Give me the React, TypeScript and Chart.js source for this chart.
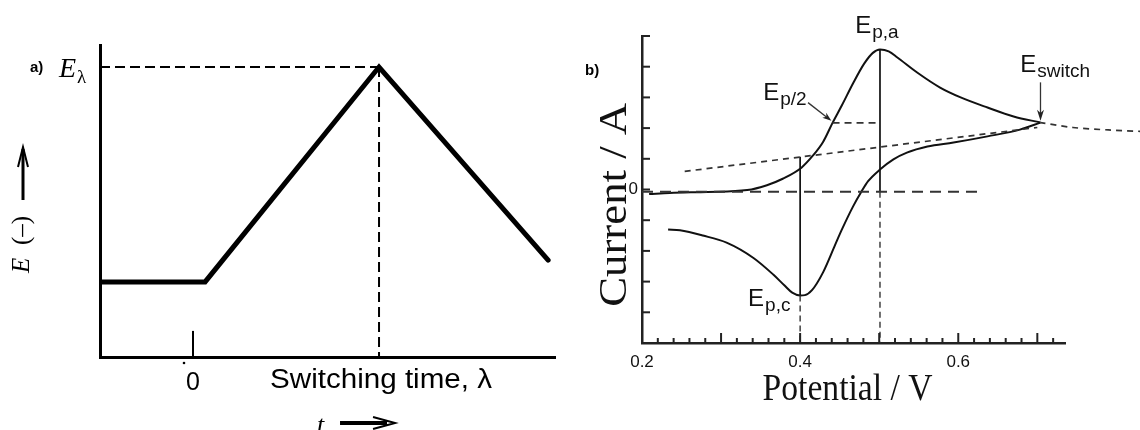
import React, { useEffect, useRef } from "react";
import { Chart, registerables } from "chart.js";
Chart.register(...registerables);

// ---------------- Panel a: potential waveform ----------------
const rampTime = [-0.5, 0.065, 1.0, 1.909];
const rampPotential = [0.259, 0.259, 1.0, 0.334];
const switchTime = 1.0;
const switchPotential = 1.0;
const timeMin = -0.5;
const timeMax = 1.946;
const potentialMin = 0;
const potentialMax = 1.076;
const timeTickValues = [0];
const timeTickLabels = ["0"];
const timeTickHeight = 0.09;

// ---------------- Panel b: cyclic voltammogram ----------------
const forwardV = [0.209, 0.235, 0.283, 0.333, 0.358, 0.378, 0.402, 0.416, 0.429, 0.441, 0.453, 0.467, 0.481, 0.492, 0.501, 0.512, 0.523, 0.548, 0.577, 0.603, 0.637, 0.67, 0.704];
const forwardI = [-0.15, -0.11, -0.08, -0.02, 0.14, 0.35, 0.72, 1.1, 1.55, 2.17, 2.75, 3.46, 4.1, 4.45, 4.56, 4.5, 4.3, 3.81, 3.32, 3.0, 2.67, 2.38, 2.18];
const reverseV = [0.233, 0.248, 0.277, 0.307, 0.341, 0.366, 0.38, 0.39, 0.4, 0.406, 0.415, 0.429, 0.444, 0.452, 0.467, 0.478, 0.486, 0.501, 0.518, 0.535, 0.561, 0.594, 0.637, 0.678, 0.704];
const reverseI = [-1.3, -1.33, -1.5, -1.73, -2.23, -2.77, -3.12, -3.36, -3.45, -3.44, -3.28, -2.7, -1.82, -1.35, -0.55, -0.05, 0.27, 0.65, 0.98, 1.2, 1.4, 1.53, 1.73, 1.95, 2.18];
const baselineV = [0.254, 0.7];
const baselineI = [0.59, 2.02];
// listed from the far right back to the switching point
const extensionV = [0.835, 0.79, 0.745, 0.704];
const extensionI = [1.89, 1.94, 2.02, 2.18];
const zeroLineV = [0.2, 0.626];
const zeroLineI = -0.07;
const peakAnodicV = 0.501;
const peakAnodicI = 4.56;
const peakCathodicV = 0.4;
const peakCathodicI = -3.45;
const cathodicLineTopI = 1.07;
const halfPeakV = [0.441, 0.501];
const halfPeakI = 2.17;
const switchV = 0.704;
const vMin = 0.2;
const vMax = 0.735;
const iMin = -5;
const iMax = 5;
const currentTickValues = [-4, -3, -2, -1, 0, 1, 2, 3, 4, 5];
const currentTickLabels = ["0"];
const potentialTickValues = [0.2, 0.4, 0.6];
const potentialTickLabels = ["0.2", "0.4", "0.6"];

const SANS = '"Liberation Sans", Arial, Helvetica, sans-serif';
const SERIF = '"Liberation Serif", "Times New Roman", serif';

function pts(xs: number[], ys: number[] | number) {
  return xs.map((x, i) => ({ x, y: Array.isArray(ys) ? ys[i] : ys }));
}

function fitText(ctx: CanvasRenderingContext2D, text: string, font: string, x: number, y: number, width: number, align: CanvasTextAlign, rot = 0) {
  ctx.save();
  ctx.font = font;
  const w = ctx.measureText(text).width;
  const sx = width > 0 ? width / w : 1;
  ctx.translate(x, y);
  if (rot) ctx.rotate(rot);
  ctx.scale(sx, 1);
  ctx.textAlign = align;
  ctx.textBaseline = "alphabetic";
  ctx.fillText(text, 0, 0);
  ctx.restore();
}

function filledArrow(ctx: CanvasRenderingContext2D, x0: number, y0: number, x1: number, y1: number, len: number, half: number) {
  const a = Math.atan2(y1 - y0, x1 - x0);
  ctx.beginPath();
  ctx.moveTo(x0, y0);
  ctx.lineTo(x1 - Math.cos(a) * len * 0.6, y1 - Math.sin(a) * len * 0.6);
  ctx.stroke();
  ctx.beginPath();
  ctx.moveTo(x1, y1);
  ctx.lineTo(x1 - Math.cos(a) * len - Math.sin(a) * half, y1 - Math.sin(a) * len + Math.cos(a) * half);
  ctx.lineTo(x1 - Math.cos(a) * len * 0.7, y1 - Math.sin(a) * len * 0.7);
  ctx.lineTo(x1 - Math.cos(a) * len + Math.sin(a) * half, y1 - Math.sin(a) * len - Math.cos(a) * half);
  ctx.closePath();
  ctx.fill();
}

const hiddenScale = (min: number, max: number, width: number, color: string, horizontal: boolean) => ({
  type: "linear" as const,
  min,
  max,
  ticks: { display: false },
  grid: { display: false, drawTicks: false },
  border: { display: true, color, width },
  afterFit: (s: any) => {
    if (horizontal) s.height = 0;
    else s.width = 0;
  },
});

const decorA = {
  id: "decorA",
  afterDraw(chart: any) {
    const ctx: CanvasRenderingContext2D = chart.ctx;
    const X = chart.scales.x;
    const Y = chart.scales.y;
    const area = chart.chartArea;
    ctx.save();
    ctx.fillStyle = "#000";
    ctx.strokeStyle = "#000";
    const ey = Y.getPixelForValue(switchPotential);
    // a)
    ctx.font = `bold 15px ${SANS}`;
    ctx.textAlign = "left";
    ctx.textBaseline = "middle";
    ctx.fillText("a)", area.left - 70, ey + 1);
    // E_lambda
    ctx.textBaseline = "alphabetic";
    ctx.font = `italic 28px ${SERIF}`;
    ctx.fillText("E", area.left - 41, ey + 10);
    const ew = ctx.measureText("E").width;
    ctx.font = `19px ${SERIF}`;
    ctx.fillText("λ", area.left - 41 + ew + 1, ey + 16);
    // rotated y label: E (–) with arrow
    ctx.save();
    ctx.translate(area.left - 78, area.bottom - 84);
    ctx.rotate(-Math.PI / 2);
    ctx.textBaseline = "middle";
    ctx.textAlign = "left";
    ctx.font = `italic 25px ${SERIF}`;
    ctx.fillText("E", 0, 0);
    ctx.font = `25px ${SERIF}`;
    ctx.fillText("(–)", 28, 0);
    ctx.restore();
    const ax = area.left - 77;
    ctx.lineWidth = 3;
    ctx.beginPath();
    ctx.moveTo(ax, area.bottom - 157);
    ctx.lineTo(ax, area.bottom - 208);
    ctx.stroke();
    ctx.lineWidth = 2;
    ctx.beginPath();
    ctx.moveTo(ax - 5, area.bottom - 190);
    ctx.lineTo(ax, area.bottom - 210);
    ctx.lineTo(ax + 5, area.bottom - 190);
    ctx.stroke();
    // time tick labels
    ctx.font = `25px ${SANS}`;
    ctx.textAlign = "center";
    ctx.textBaseline = "alphabetic";
    timeTickValues.forEach((v, i) => {
      const px = X.getPixelForValue(v);
      ctx.fillText(timeTickLabels[i], px, area.bottom + 33);
      ctx.beginPath();
      ctx.arc(px - 9, area.bottom + 6, 1.3, 0, Math.PI * 2);
      ctx.fill();
    });
    // Switching time label
    const sx = X.getPixelForValue(switchTime);
    fitText(ctx, "Switching time, λ", `27px ${SANS}`, sx + 2, area.bottom + 31, 222, "center");
    // t ->
    ctx.font = `italic 26px ${SERIF}`;
    ctx.textAlign = "left";
    ctx.fillText("t", sx - 62, area.bottom + 76);
    const ty = area.bottom + 66;
    ctx.lineWidth = 4;
    ctx.beginPath();
    ctx.moveTo(sx - 39, ty);
    ctx.lineTo(sx + 8, ty);
    ctx.stroke();
    ctx.lineWidth = 2;
    ctx.beginPath();
    ctx.moveTo(sx - 6, ty - 6);
    ctx.lineTo(sx + 16, ty);
    ctx.lineTo(sx - 6, ty + 6);
    ctx.stroke();
    ctx.restore();
  },
};

const decorB = {
  id: "decorB",
  afterDraw(chart: any) {
    const ctx: CanvasRenderingContext2D = chart.ctx;
    const X = chart.scales.x;
    const Y = chart.scales.y;
    const area = chart.chartArea;
    ctx.save();
    ctx.strokeStyle = "#222";
    ctx.fillStyle = "#111";
    // y ticks (inward)
    ctx.lineWidth = 2;
    currentTickValues.forEach((v) => {
      const py = Y.getPixelForValue(v);
      ctx.beginPath();
      ctx.moveTo(area.left, py);
      ctx.lineTo(area.left + 8, py);
      ctx.stroke();
    });
    // x ticks every 0.02, taller every 0.1
    for (let k = 11; k <= 36; k++) {
      const v = k * 0.02;
      const px = X.getPixelForValue(v);
      const len = k % 5 === 0 ? 10 : 5;
      ctx.beginPath();
      ctx.moveTo(px, area.bottom);
      ctx.lineTo(px, area.bottom - len);
      ctx.stroke();
    }
    // tick labels
    ctx.font = `17px ${SANS}`;
    ctx.textAlign = "center";
    ctx.textBaseline = "alphabetic";
    potentialTickValues.forEach((v, i) => {
      ctx.fillText(potentialTickLabels[i], X.getPixelForValue(v), area.bottom + 24);
    });
    ctx.textAlign = "right";
    ctx.textBaseline = "middle";
    ctx.fillText(currentTickLabels[0], area.left - 4, Y.getPixelForValue(0));
    // axis titles
    fitText(ctx, "Potential / V", `38px ${SERIF}`, X.getPixelForValue(0.46), area.bottom + 57, 170, "center");
    fitText(ctx, "Current / A", `40px ${SERIF}`, area.left - 16, Y.getPixelForValue(-0.5), 204, "center", -Math.PI / 2);
    // b)
    ctx.font = `bold 15px ${SANS}`;
    ctx.textAlign = "left";
    ctx.textBaseline = "middle";
    ctx.fillStyle = "#000";
    ctx.fillText("b)", area.left - 57, 71);
    // subscript labels
    const lbl = (sub: string, v: number, i: number) => {
      const x = X.getPixelForValue(v);
      const y = Y.getPixelForValue(i);
      ctx.textAlign = "left";
      ctx.textBaseline = "alphabetic";
      ctx.fillStyle = "#111";
      ctx.font = `24px ${SANS}`;
      ctx.fillText("E", x, y);
      const w = ctx.measureText("E").width;
      ctx.font = `19px ${SANS}`;
      ctx.fillText(sub, x + w + 1, y + 5);
    };
    lbl("p,a", 0.4696, 5.11);
    lbl("p/2", 0.3532, 2.93);
    lbl("p,c", 0.3342, -3.81);
    lbl("switch", 0.6785, 3.84);
    // arrows
    ctx.strokeStyle = "#333";
    ctx.fillStyle = "#222";
    ctx.lineWidth = 1.3;
    filledArrow(ctx, X.getPixelForValue(0.41), Y.getPixelForValue(2.83), X.getPixelForValue(0.4395), Y.getPixelForValue(2.24), 9, 3.2);
    filledArrow(ctx, X.getPixelForValue(switchV), Y.getPixelForValue(3.49), X.getPixelForValue(switchV), Y.getPixelForValue(2.24), 11, 3.5);
    ctx.restore();
  },
};

const lineBase = { pointRadius: 0, fill: false, borderColor: "#000", tension: 0 };

export default function App() {
  const refA = useRef<HTMLCanvasElement>(null);
  const refB = useRef<HTMLCanvasElement>(null);

  useEffect(() => {
    const chartA = new Chart(refA.current as HTMLCanvasElement, {
      type: "line",
      data: {
        datasets: [
          { ...lineBase, data: pts(timeTickValues, 0).concat(pts(timeTickValues, timeTickHeight)), borderWidth: 2 },
          { ...lineBase, data: pts([timeMin, switchTime], switchPotential), borderWidth: 2, borderDash: [10, 5] },
          { ...lineBase, data: pts([switchTime, switchTime], [switchPotential, potentialMin]), borderWidth: 2, borderDash: [10, 5] },
          { ...lineBase, data: pts(rampTime, rampPotential), borderWidth: 5, borderJoinStyle: "miter", borderCapStyle: "round" },
        ] as any,
      },
      options: {
        animation: false,
        responsive: false,
        devicePixelRatio: 1,
        events: [],
        layout: { padding: { left: 100, top: 45, right: 15, bottom: 73 } },
        plugins: { legend: { display: false }, tooltip: { enabled: false } },
        scales: {
          x: hiddenScale(timeMin, timeMax, 3, "#000", true),
          y: hiddenScale(potentialMin, potentialMax, 3, "#000", false),
        } as any,
      },
      plugins: [decorA],
    });

    const dashed = { ...lineBase, borderColor: "#333" };
    const chartB = new Chart(refB.current as HTMLCanvasElement, {
      type: "line",
      data: {
        datasets: [
          { ...dashed, data: pts(zeroLineV, zeroLineI), borderWidth: 2, borderDash: [11, 7] },
          { ...dashed, data: pts(baselineV, baselineI), borderWidth: 1.7, borderDash: [6, 5] },
          { ...dashed, data: pts(extensionV, extensionI), borderWidth: 1.7, borderDash: [6, 5], clip: false, tension: 0.3 },
          { ...dashed, data: pts(halfPeakV, halfPeakI), borderWidth: 1.7, borderDash: [7, 5] },
          { ...dashed, data: pts([peakAnodicV, peakAnodicV], [zeroLineI, iMin]), borderWidth: 1.4, borderDash: [6, 4] },
          { ...dashed, data: pts([peakCathodicV, peakCathodicV], [peakCathodicI, iMin]), borderWidth: 1.4, borderDash: [6, 4] },
          { ...lineBase, borderColor: "#111", data: pts([peakAnodicV, peakAnodicV], [peakAnodicI, zeroLineI]), borderWidth: 1.7 },
          { ...lineBase, borderColor: "#111", data: pts([peakCathodicV, peakCathodicV], [cathodicLineTopI, peakCathodicI]), borderWidth: 1.7 },
          { ...lineBase, borderColor: "#111", data: pts(forwardV, forwardI), borderWidth: 2, cubicInterpolationMode: "monotone" },
          { ...lineBase, borderColor: "#111", data: pts(reverseV, reverseI), borderWidth: 2, cubicInterpolationMode: "monotone" },
        ] as any,
      },
      options: {
        animation: false,
        responsive: false,
        devicePixelRatio: 1,
        events: [],
        layout: { padding: { left: 72, top: 36, right: 75, bottom: 87 } },
        plugins: { legend: { display: false }, tooltip: { enabled: false } },
        scales: {
          x: hiddenScale(vMin, vMax, 2.5, "#222", true),
          y: hiddenScale(iMin, iMax, 2.5, "#222", false),
        } as any,
      },
      plugins: [decorB],
    });

    return () => {
      chartA.destroy();
      chartB.destroy();
    };
  }, []);

  return (
    <div style={{ position: "absolute", left: 0, top: 0, width: 1140, height: 430, background: "#fff", overflow: "hidden" }}>
      <canvas ref={refA} width={570} height={430} style={{ position: "absolute", left: 0, top: 0, width: 570, height: 430 }} />
      <canvas ref={refB} width={570} height={430} style={{ position: "absolute", left: 570, top: 0, width: 570, height: 430 }} />
    </div>
  );
}
